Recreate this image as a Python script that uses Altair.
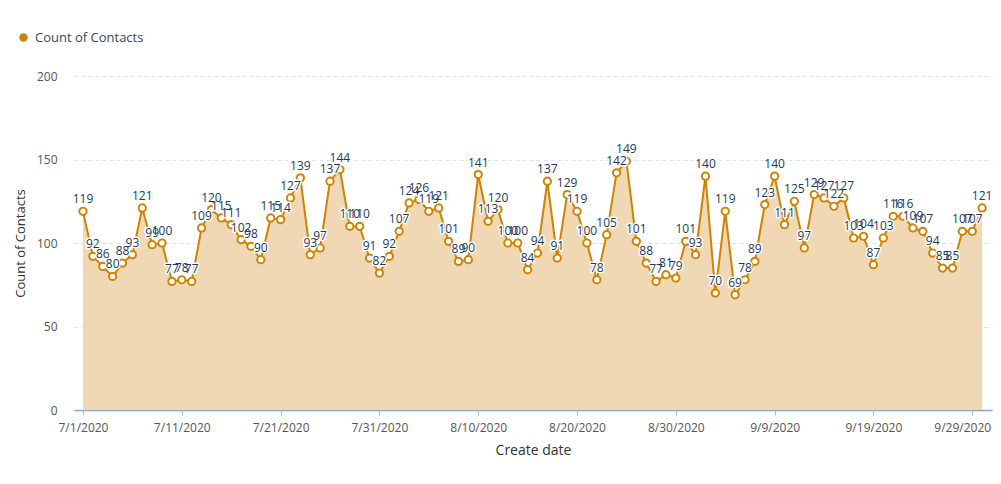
import altair as alt
import pandas as pd

series_name = "Count of Contacts"
start_date = "2020-07-01"
counts = [119, 92, 86, 80, 88, 93, 121, 99, 100, 77, 78, 77, 109, 120, 115, 111,
          102, 98, 90, 115, 114, 127, 139, 93, 97, 137, 144, 110, 110, 91, 82, 92,
          107, 124, 126, 119, 121, 101, 89, 90, 141, 113, 120, 100, 100, 84, 94, 137,
          91, 129, 119, 100, 78, 105, 142, 149, 101, 88, 77, 81, 79, 101, 93, 140,
          70, 119, 69, 78, 89, 123, 140, 111, 125, 97, 129, 127, 122, 127, 103, 104,
          87, 103, 116, 116, 109, 107, 94, 85, 85, 107, 107, 121]
tick_dates = [(2020, 7, 1), (2020, 7, 11), (2020, 7, 21), (2020, 7, 31), (2020, 8, 10),
              (2020, 8, 20), (2020, 8, 30), (2020, 9, 9), (2020, 9, 19), (2020, 9, 29)]
y_ticks = [0, 50, 100, 150, 200]

dates = pd.date_range(start_date, periods=len(counts), freq="D").strftime("%Y-%m-%d")
df = pd.DataFrame({"date": dates, "count": counts, "series": series_name})

ORANGE = "#D08300"
AREA = "#EFD8B3"
LABEL = "#24385E"
FONT = "Open Sans"

xscale = alt.Scale(
    type="utc",
    domain=[alt.DateTime(year=2020, month=6, date=30, hours=2, minutes=10, utc=True),
            alt.DateTime(year=2020, month=10, date=1, hours=0, minutes=0, utc=True)],
)
xaxis = alt.Axis(
    title="Create date",
    values=[alt.DateTime(year=y, month=m, date=d, utc=True) for (y, m, d) in tick_dates],
    format="%-m/%-d/%Y",
    grid=False,
    domainColor="#8AA4C8",
    domainWidth=1.5,
    tickColor="#B4BAC4",
    tickSize=5,
    labelColor="#555555",
    labelFontSize=12,
    labelFont=FONT,
    labelPadding=7,
    labelOffset={"condition": {"test": "utcdate(datum.value) == 29", "value": -10}, "value": 0},
    titleFont=FONT,
    titleFontSize=14,
    titleFontWeight="normal",
    titleColor="#333333",
    titlePadding=10,
)
yscale = alt.Scale(domain=[0, 200], nice=False)
yaxis = alt.Axis(
    title="Count of Contacts",
    values=y_ticks,
    domain=False,
    ticks=False,
    grid=True,
    gridColor="#DCE3EE",
    gridDash=[4, 3],
    labelColor="#555555",
    labelFontSize=12,
    labelFont=FONT,
    labelPadding=17,
    titleFont=FONT,
    titleFontSize=13,
    titleFontWeight="normal",
    titleColor="#333333",
    titlePadding=9,
)

base = alt.Chart(df).encode(
    x=alt.X("date:T", scale=xscale, axis=xaxis),
    y=alt.Y("count:Q", scale=yscale, axis=yaxis),
)

area = base.mark_area(color=AREA, opacity=1)
line = base.mark_line(color=ORANGE, strokeWidth=2)
outer = base.mark_circle(size=85, opacity=1).encode(
    color=alt.Color(
        "series:N",
        scale=alt.Scale(range=[ORANGE]),
        legend=alt.Legend(
            title=None,
            orient="none",
            legendX=-57,
            legendY=-45,
            symbolType="circle",
            symbolSize=70,
            labelFont=FONT,
            labelFontSize=13,
            labelColor="#3A4560",
            labelOffset=5,
        ),
    )
)
inner = base.mark_circle(size=28, color="white", opacity=1)
halo = base.mark_text(
    baseline="bottom", dy=-5, font=FONT, fontSize=12,
    stroke="white", strokeWidth=3, strokeJoin="round", fill="white",
).encode(text=alt.Text("count:Q"))
labels = base.mark_text(
    baseline="bottom", dy=-5, font=FONT, fontSize=12, fill=LABEL,
).encode(text=alt.Text("count:Q"))

chart = alt.layer(area, line, outer, inner, halo, labels).properties(
    width=918,
    height=334,
    padding={"left": 66, "top": 68, "right": 1, "bottom": 66},
    autosize=alt.AutoSizeParams(type="none"),
    background="white",
).configure_view(stroke=None)

chart.save("out.html", embed_options={"renderer": "svg", "actions": False})
